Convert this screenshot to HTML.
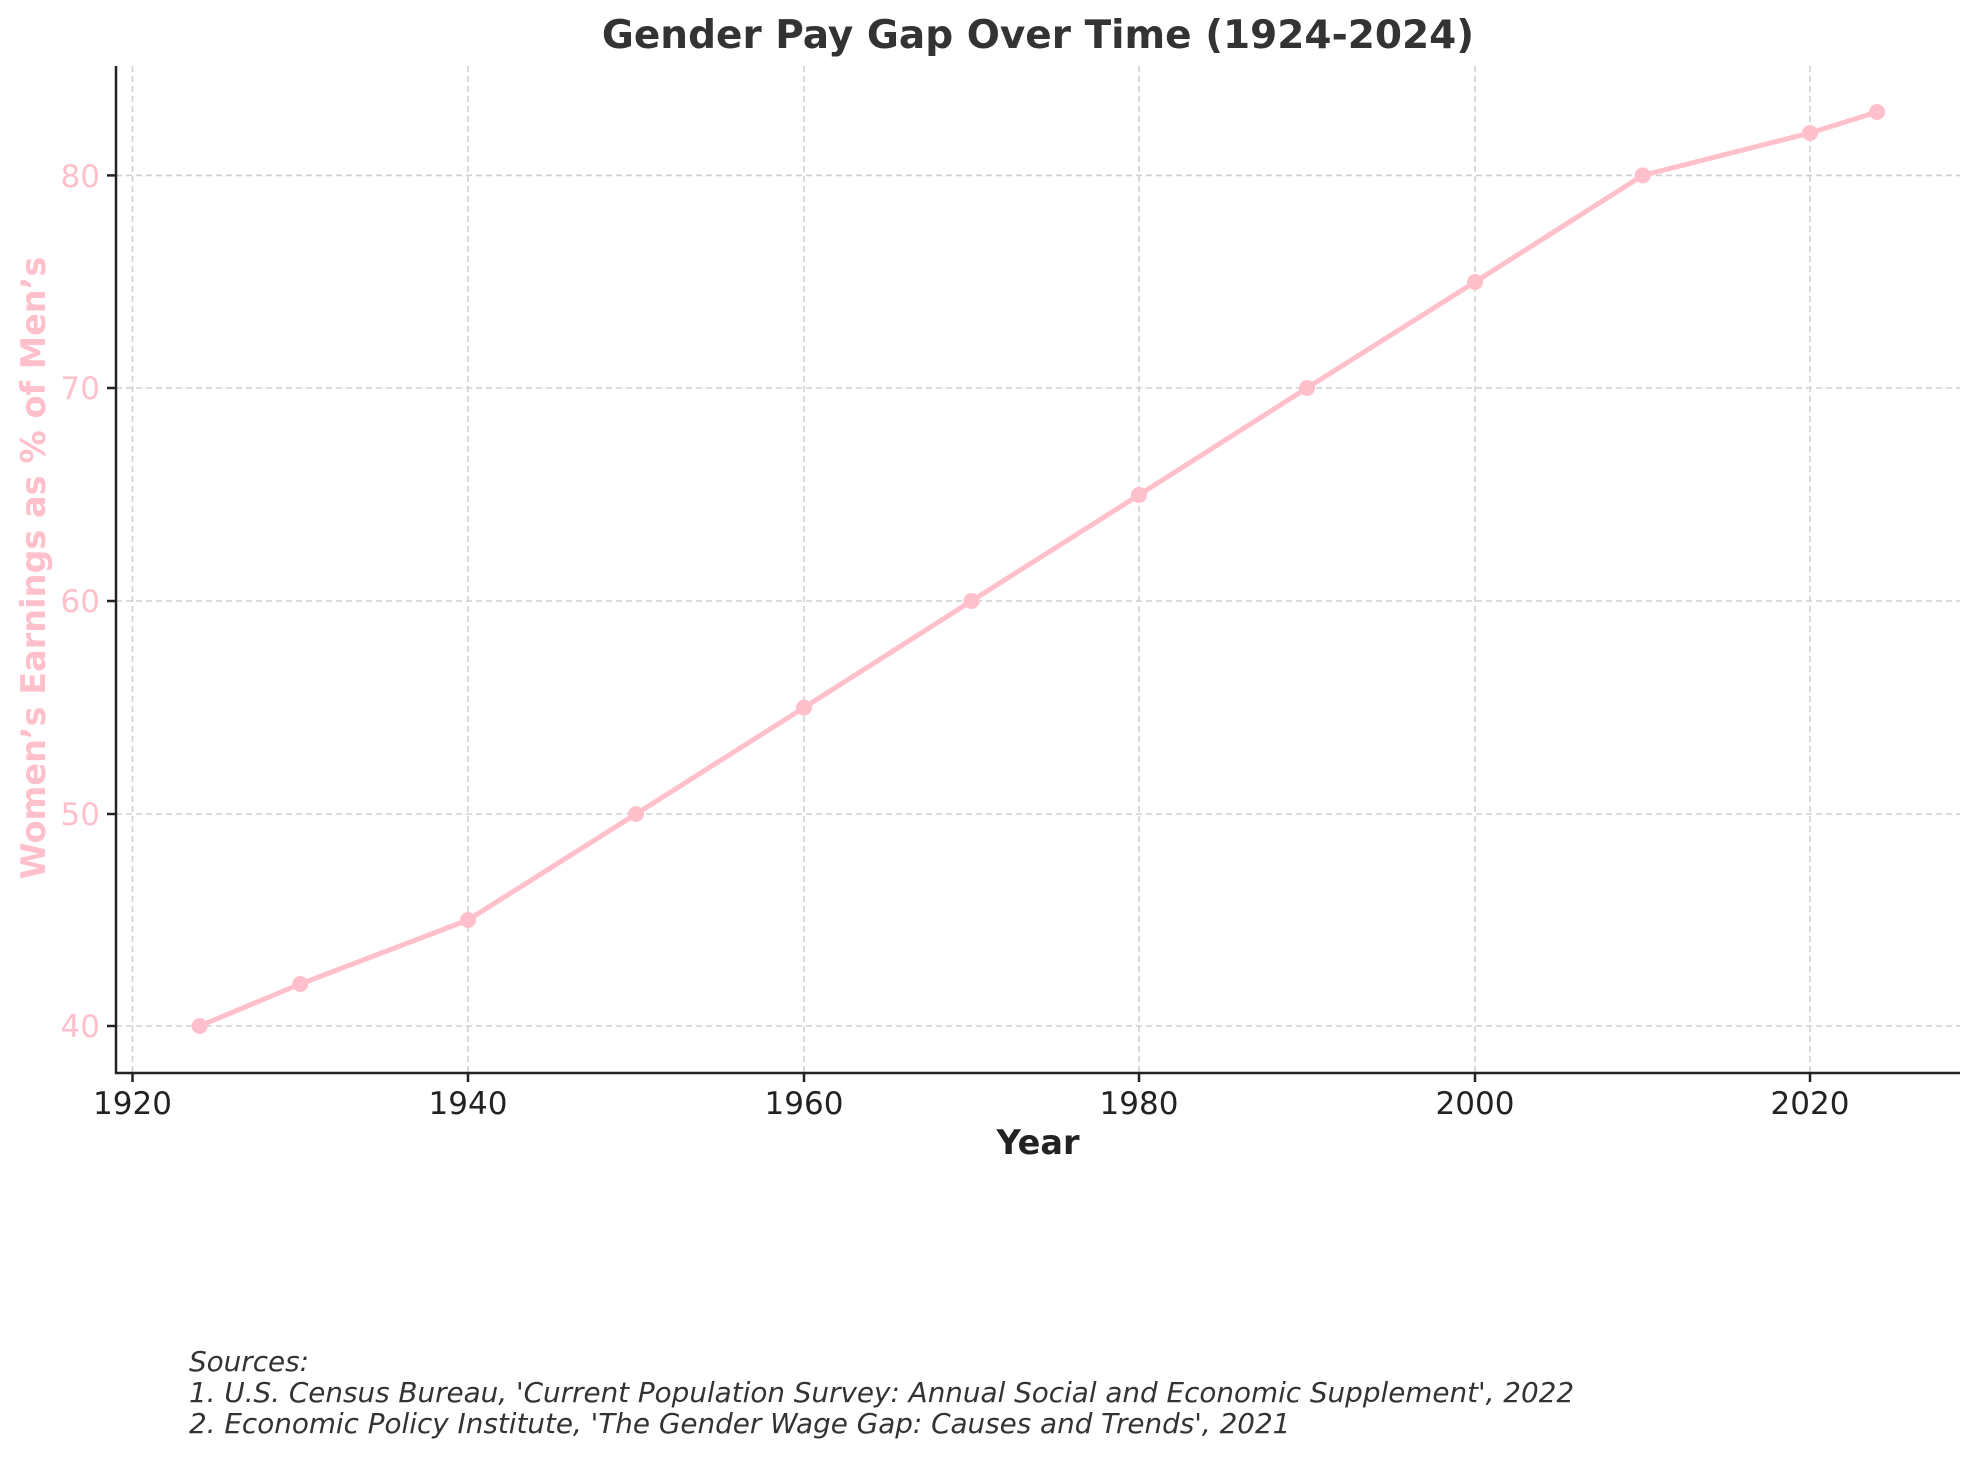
<!DOCTYPE html>
<html><head><meta charset="utf-8"><style>body{margin:0;background:#fff}svg{display:block}</style></head><body>
<svg width="1979" height="1460" xmlns="http://www.w3.org/2000/svg" font-family="DejaVu Sans, Liberation Sans, sans-serif">
<rect width="1979" height="1460" fill="#fff"/>
<g stroke="#d0d0d0" stroke-width="1.6" stroke-dasharray="6,4">
<line x1="132.5" y1="66" x2="132.5" y2="1073"/><line x1="468" y1="66" x2="468" y2="1073"/><line x1="804" y1="66" x2="804" y2="1073"/><line x1="1139" y1="66" x2="1139" y2="1073"/><line x1="1475" y1="66" x2="1475" y2="1073"/><line x1="1810" y1="66" x2="1810" y2="1073"/>
<line x1="116" y1="175.4" x2="1960" y2="175.4"/><line x1="116" y1="388" x2="1960" y2="388"/><line x1="116" y1="601" x2="1960" y2="601"/><line x1="116" y1="814" x2="1960" y2="814"/><line x1="116" y1="1026" x2="1960" y2="1026"/>
</g>
<g stroke="#222" stroke-width="2.5">
<line x1="116" y1="66" x2="116" y2="1074"/><line x1="115" y1="1073" x2="1960" y2="1073"/>
<line x1="132.5" y1="1073" x2="132.5" y2="1082"/><line x1="468" y1="1073" x2="468" y2="1082"/><line x1="804" y1="1073" x2="804" y2="1082"/><line x1="1139" y1="1073" x2="1139" y2="1082"/><line x1="1475" y1="1073" x2="1475" y2="1082"/><line x1="1810" y1="1073" x2="1810" y2="1082"/>
<line x1="107" y1="175.4" x2="116" y2="175.4"/><line x1="107" y1="388" x2="116" y2="388"/><line x1="107" y1="601" x2="116" y2="601"/><line x1="107" y1="814" x2="116" y2="814"/><line x1="107" y1="1026" x2="116" y2="1026"/>
</g>
<g font-size="31" fill="#222" text-anchor="middle">
<text x="132.5" y="1114">1920</text><text x="468" y="1114">1940</text><text x="804" y="1114">1960</text><text x="1139" y="1114">1980</text><text x="1475" y="1114">2000</text><text x="1810" y="1114">2020</text>
</g>
<g font-size="31" fill="#ffc0cb" text-anchor="end">
<text x="100" y="187">80</text><text x="100" y="399">70</text><text x="100" y="612">60</text><text x="100" y="825">50</text><text x="100" y="1037">40</text>
</g>
<polyline fill="none" stroke="#ffc0cb" stroke-width="5" stroke-linejoin="round" points="199.6,1026 300.3,984 468,920 636,814 804,707.6 971.5,601 1139,495 1307,388 1475,282 1642.7,175.4 1810,133 1877,112"/>
<g fill="#ffc0cb">
<circle cx="199.6" cy="1026" r="8"/><circle cx="300.3" cy="984" r="8"/><circle cx="468" cy="920" r="8"/><circle cx="636" cy="814" r="8"/><circle cx="804" cy="707.6" r="8"/><circle cx="971.5" cy="601" r="8"/><circle cx="1139" cy="495" r="8"/><circle cx="1307" cy="388" r="8"/><circle cx="1475" cy="282" r="8"/><circle cx="1642.7" cy="175.4" r="8"/><circle cx="1810" cy="133" r="8"/><circle cx="1877" cy="112" r="8"/>
</g>
<text x="1038" y="48" font-size="39" font-weight="bold" fill="#333" text-anchor="middle">Gender Pay Gap Over Time (1924-2024)</text>
<text x="1038" y="1154" font-size="33.5" font-weight="bold" fill="#222" text-anchor="middle">Year</text>
<text transform="translate(45,568) rotate(-90)" font-size="33.5" font-weight="bold" fill="#ffc0cb" text-anchor="middle">Women’s Earnings as % of Men’s</text>
<g font-size="27.8" font-style="italic" fill="#333">
<text x="189" y="1371">Sources:</text>
<text x="189" y="1402">1. U.S. Census Bureau, 'Current Population Survey: Annual Social and Economic Supplement', 2022</text>
<text x="189" y="1433">2. Economic Policy Institute, 'The Gender Wage Gap: Causes and Trends', 2021</text>
</g>
</svg>
</body></html>
